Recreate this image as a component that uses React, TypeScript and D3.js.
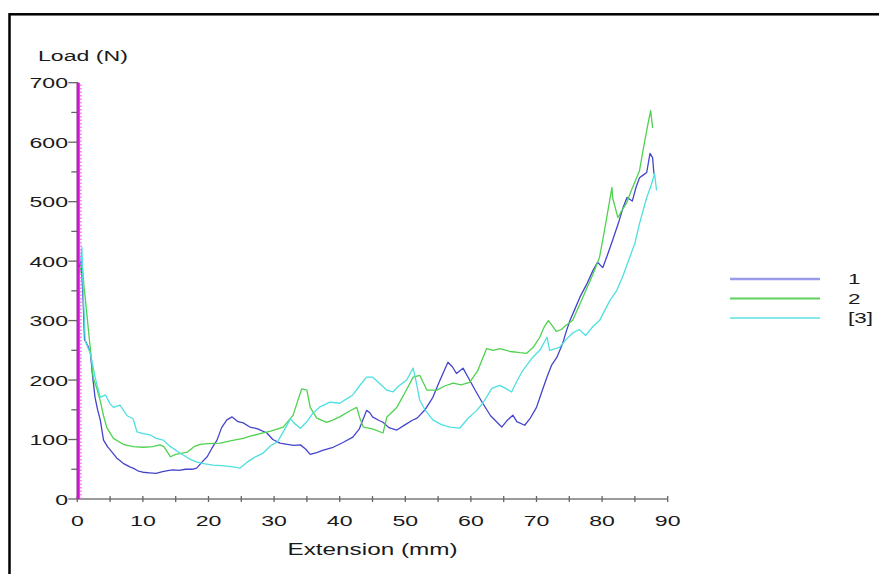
import React from "react";
import * as d3 from "d3";

const xTicks = [0, 10, 20, 30, 40, 50, 60, 70, 80, 90];
const xMinorTicks = [5, 15, 25, 35, 45, 55, 65, 75, 85];
const yTicks = [0, 100, 200, 300, 400, 500, 600, 700];
const yMinorTicks = [50, 150, 250, 350, 450, 550, 650];
const seriesNames = ["1", "2", "[3]"];

const series1: [number, number][] = [
  [0.3, 390], [0.6, 400], [0.9, 330], [1.1, 268], [1.4, 262], [1.7, 255], [2.0, 245], [2.3, 210],
  [2.7, 171], [3.1, 150], [3.5, 133], [4, 99], [4.6, 88], [5.2, 80], [6, 69], [7, 60], [8, 54],
  [8.5, 52], [9.3, 47], [10, 45], [11, 44], [12, 43], [13, 46], [14, 48], [14.6, 49], [15.5, 48],
  [16.5, 50], [17.5, 50], [18.2, 52], [19, 62], [19.8, 71], [20.5, 85], [21.3, 99], [22, 120],
  [22.8, 133], [23.6, 138], [24.5, 130], [25.3, 128], [26.3, 121], [27.5, 118], [28.9, 111],
  [29.8, 100], [30.9, 94], [32, 92], [33, 90], [34, 91], [34.8, 84], [35.5, 75], [36.5, 78],
  [37.5, 82], [39, 87], [40.5, 95], [42, 104], [43, 118], [44.1, 149], [44.6, 145], [45, 138],
  [46, 132], [46.6, 129], [47.5, 120], [48.7, 116], [50, 125], [51, 132], [51.8, 136], [53, 150],
  [54.2, 171], [55.3, 200], [56.5, 230], [57.2, 222], [57.8, 211], [58.8, 220], [59.8, 200],
  [60.8, 180], [61.8, 161], [63, 140], [64.7, 121], [65.6, 133], [66.4, 141], [67, 130],
  [68.2, 124], [69, 135], [70, 154], [70.8, 180], [71.6, 205], [72.3, 225], [73.1, 238],
  [74, 262], [74.6, 284], [75.1, 300], [75.8, 318], [76.6, 339], [77.6, 360], [78.6, 384],
  [79.3, 398], [80.1, 389], [80.8, 410], [81.6, 435], [82.6, 468], [83.2, 490], [83.8, 507],
  [84.6, 501], [85.2, 525], [85.7, 540], [86.3, 545], [86.8, 549], [87.3, 581], [87.7, 574],
  [87.9, 547],
];

const series2: [number, number][] = [
  [0.4, 380], [0.7, 401], [1.0, 360], [1.2, 339], [1.7, 284], [2.1, 240], [2.4, 205], [3.0, 185],
  [3.5, 165], [4, 140], [4.5, 120], [5.5, 102], [7, 92], [8.5, 88], [10, 87], [11.5, 88],
  [12.6, 91], [13.2, 88], [14.2, 71], [15, 75], [16.8, 79], [17.8, 88], [18.7, 92], [20, 93],
  [21.8, 94], [23.5, 98], [25.3, 102], [26.5, 106], [28.3, 111], [29.5, 114], [31.4, 121],
  [32.9, 141], [33.6, 165], [34.2, 185], [35, 183], [35.5, 154], [36.5, 136], [38, 129], [39, 133],
  [40, 138], [41.5, 148], [42.6, 154], [43.1, 135], [43.6, 121], [45, 118], [46.6, 111],
  [47.2, 138], [48.7, 154], [50, 180], [51.2, 205], [52.2, 208], [53.3, 183], [54.8, 183],
  [56, 190], [57.3, 195], [58.5, 192], [59.8, 196], [61, 215], [62.4, 253], [63.4, 250],
  [64.4, 253], [66, 248], [67.5, 246], [68.5, 245], [69.5, 255], [70.5, 272], [71.2, 290],
  [71.8, 300], [72.5, 290], [73, 282], [73.8, 285], [74.5, 292], [75.5, 300], [76.5, 325],
  [77.5, 350], [78.6, 378], [79.6, 406], [80.5, 460], [81.5, 524], [81.6, 507], [82.4, 473],
  [83, 485], [83.7, 497], [84.5, 520], [85.7, 552], [86.3, 590], [87, 631], [87.4, 653],
  [87.7, 624],
];

const series3: [number, number][] = [
  [0.5, 400], [0.7, 423], [0.9, 350], [1.2, 267], [1.6, 255], [2.0, 245], [2.7, 205], [3.5, 171],
  [4.3, 175], [5, 160], [5.5, 154], [6.5, 158], [7.6, 140], [8.5, 135], [9.1, 113], [10, 110],
  [11.1, 108], [12, 102], [13.1, 99], [14.2, 88], [15.7, 77], [17, 68], [18.2, 62], [19.5, 59],
  [20.7, 57], [22, 56], [23.8, 54], [24.8, 52], [25.9, 62], [27, 70], [28.3, 77], [29.5, 90],
  [30.5, 96], [31.5, 115], [32.5, 135], [33, 128], [34, 119], [35, 130], [35.9, 144], [37, 155],
  [38.5, 163], [40, 161], [41, 168], [42, 175], [43, 190], [44.1, 205], [45, 205], [46, 195],
  [47.2, 183], [48.1, 180], [49, 190], [50.2, 200], [51.2, 220], [51.7, 195], [52.2, 166],
  [53, 150], [54.2, 133], [55.5, 125], [56.8, 121], [58.3, 119], [59.5, 135], [60.9, 149],
  [61.8, 161], [63.2, 186], [64.4, 191], [65.3, 186], [66.2, 180], [67, 198], [67.9, 216],
  [69.4, 238], [70.5, 250], [71.6, 272], [72, 250], [73.5, 255], [74.5, 268], [75.5, 279],
  [76.5, 285], [77.5, 275], [78.6, 290], [79.6, 300], [81.2, 334], [82.2, 350], [83.1, 373],
  [84.2, 406], [85, 430], [85.7, 463], [86.8, 507], [87.4, 525], [88, 547], [88.3, 519],
];

const zeroLine: [number, number][] = [[0.15, 0], [0.15, 700]];
const zeroLineDots: [number, number][] = [[0.55, 0], [0.55, 700]];

const lineColors = ["#4444cc", "#4fd24f", "#4ee0e0"];
const legendColors = ["#9a9aea", "#5ed25e", "#86e8e8"];

const FONT = "'Liberation Sans', Arial, sans-serif";
const SX = 1.5;

export default function App() {
  const x = d3.scaleLinear().domain([0, 90]).range([77.3, 667.7]);
  const y = d3.scaleLinear().domain([0, 700]).range([499, 82.7]);
  const line = d3
    .line<[number, number]>()
    .x((d) => x(d[0]))
    .y((d) => y(d[1]));
  const all = [series1, series2, series3];

  const txt = (
    tx: number,
    ty: number,
    s: string,
    anchor: string,
    size: number,
    sx = SX,
    key?: string
  ) => (
    <g key={key} transform={`translate(${tx},${ty}) scale(${sx},1)`}>
      <text
        textAnchor={anchor as any}
        fontFamily={FONT}
        fontSize={size}
        fill="#1a1a1a"
      >
        {s}
      </text>
    </g>
  );

  return (
    <svg
      width={879}
      height={574}
      style={{ position: "absolute", left: 0, top: 0, background: "#fff" }}
    >
      <rect x={0} y={0} width={879} height={574} fill="#fff" />
      <rect x={9.5} y={14.3} width={900} height={620} fill="none" stroke="#000" strokeWidth={2.5} />

      {/* axes */}
      <line x1={x(0)} x2={x(90)} y1={y(0)} y2={y(0)} stroke="#7a7a7a" strokeWidth={1.6} />
      <line x1={x(0)} x2={x(0)} y1={y(0)} y2={y(700)} stroke="#7a7a7a" strokeWidth={1.6} />
      {xTicks.map((t) => (
        <line key={"xt" + t} x1={x(t)} x2={x(t)} y1={y(0) - 3} y2={y(0) + 3} stroke="#666" strokeWidth={1.3} />
      ))}
      {xMinorTicks.map((t) => (
        <line key={"xm" + t} x1={x(t)} x2={x(t)} y1={y(0) - 3} y2={y(0) + 3} stroke="#666" strokeWidth={1.3} />
      ))}
      {yTicks.map((t) => (
        <line key={"yt" + t} x1={x(0) - 9} x2={x(0) + 1} y1={y(t)} y2={y(t)} stroke="#666" strokeWidth={1.3} />
      ))}
      {yMinorTicks.map((t) => (
        <line key={"ym" + t} x1={x(0) - 6} x2={x(0)} y1={y(t)} y2={y(t)} stroke="#666" strokeWidth={1.3} />
      ))}

      {/* tick labels */}
      {yTicks.map((t) => txt(68, y(t) + 5.5, String(t), "end", 15.4, SX, "yl" + t))}
      {xTicks.map((t) => txt(x(t), 526, String(t), "middle", 15.4, SX, "xl" + t))}
      {txt(38, 61, "Load (N)", "start", 15.4)}
      {txt(372.5, 555, "Extension (mm)", "middle", 16.2)}

      {/* data */}
      {all.map((s, i) => (
        <path key={"s" + i} d={line(s) || ""} fill="none" stroke={lineColors[i]} strokeWidth={1.3} strokeLinejoin="round" />
      ))}

      {/* zero marker */}
      <path d={line(zeroLine) || ""} stroke="#d414d4" strokeWidth={3} fill="none" />
      <path d={line(zeroLineDots) || ""} stroke="#ff66ff" strokeWidth={1.5} strokeDasharray="1.5,2" fill="none" />

      {/* legend */}
      {seriesNames.map((n, i) => (
        <g key={"lg" + i}>
          <line x1={730} x2={820} y1={279 + i * 19.5} y2={279 + i * 19.5} stroke={legendColors[i]} strokeWidth={i === 0 ? 2.6 : 2} />
          {txt(848, 284 + i * 19.5, n, "start", 14.5, 1.55)}
        </g>
      ))}
    </svg>
  );
}
